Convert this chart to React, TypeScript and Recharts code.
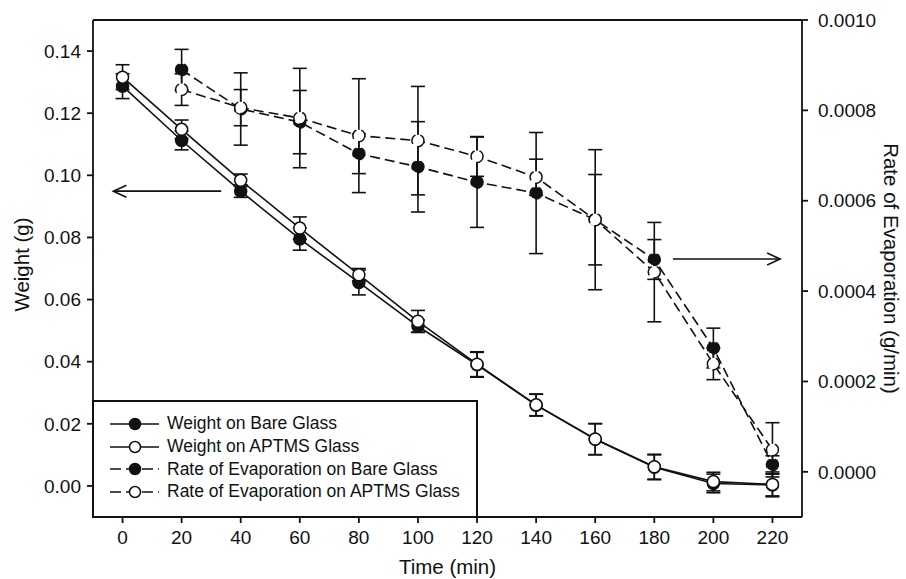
import React from "react";
import {
  ComposedChart,
  Line,
  XAxis,
  YAxis,
  ErrorBar,
  ReferenceLine,
  Legend,
} from "recharts";

const FONT = "'Liberation Sans', Arial, Helvetica, sans-serif";
const INK = "#111";

// time in minutes
const times = [0, 20, 40, 60, 80, 100, 120, 140, 160, 180, 200, 220];

// weight (g), left axis
const weightBare = [0.1287, 0.1112, 0.0949, 0.0795, 0.0655, 0.0514, 0.039, 0.026, 0.015, 0.006, 0.0008, 0.0003];
const weightBareErr = [0.004, 0.003, 0.002, 0.0036, 0.004, 0.002, 0.004, 0.0035, 0.005, 0.004, 0.003, 0.0035];
const weightAptms = [0.1316, 0.1148, 0.0984, 0.083, 0.068, 0.053, 0.0392, 0.0261, 0.0151, 0.0062, 0.0014, 0.0005];
const weightAptmsErr = [0.004, 0.003, 0.002, 0.0036, 0.002, 0.0035, 0.004, 0.0035, 0.005, 0.004, 0.003, 0.004];

// rate of evaporation (g/min), right axis
const rateBare = [null, 0.00089, 0.000803, 0.000774, 0.000704, 0.000675, 0.000641, 0.000617, 0.000558, 0.00047, 0.000274, 0.0000155];
const rateBareErr = [null, 0.000045, 0.00008, 0.00007, 0.000044, 0.0001, 0.0001, 0.000134, 0.000155, 0.000044, 0.000044, 0.00002];
const rateAptms = [null, 0.000846, 0.000806, 0.000783, 0.000744, 0.000733, 0.000698, 0.000652, 0.000558, 0.000442, 0.000239, 0.0000487];
const rateAptmsErr = [null, 0.000035, 0.00004, 0.00011, 0.000126, 0.00012, 0.000044, 0.00004, 0.0001, 0.00011, 0.000035, 0.00006];

const xTicks = [0, 20, 40, 60, 80, 100, 120, 140, 160, 180, 200, 220];
const weightTicks = [0, 0.02, 0.04, 0.06, 0.08, 0.1, 0.12, 0.14];
const rateTicks = [0, 0.0002, 0.0004, 0.0006, 0.0008, 0.001];

const legendItems = [
  { label: "Weight on Bare Glass", filled: true, dashed: false },
  { label: "Weight on APTMS Glass", filled: false, dashed: false },
  { label: "Rate of Evaporation on Bare Glass", filled: true, dashed: true },
  { label: "Rate of Evaporation on APTMS Glass", filled: false, dashed: true },
];

const data = times.map((t, i) => ({
  time: t,
  wBare: weightBare[i],
  wBareErr: weightBareErr[i],
  wAptms: weightAptms[i],
  wAptmsErr: weightAptmsErr[i],
  rBare: rateBare[i],
  rBareErr: rateBareErr[i],
  rAptms: rateAptms[i],
  rAptmsErr: rateAptmsErr[i],
}));

const tickStyle = { fontFamily: FONT, fontSize: 19, fill: INK };
const titleStyle = { fontFamily: FONT, fontSize: 20.5, fill: INK };

const leftTitle = (props: any) => {
  const { x, y, height } = props.viewBox;
  const cx = x + 29;
  const cy = y + height / 2 - 4;
  return (
    <text x={cx} y={cy} transform={`rotate(-90, ${cx}, ${cy})`} textAnchor="middle" style={titleStyle}>
      Weight (g)
    </text>
  );
};

const rightTitle = (props: any) => {
  const { x, y, height } = props.viewBox;
  const cx = x + 82;
  const cy = y + height / 2;
  return (
    <text x={cx} y={cy} transform={`rotate(90, ${cx}, ${cy})`} textAnchor="middle" style={titleStyle}>
      Rate of Evaporation (g/min)
    </text>
  );
};

const bottomTitle = (props: any) => {
  const { x, y, width } = props.viewBox;
  return (
    <text x={x + width / 2} y={y + 57} textAnchor="middle" style={titleStyle}>
      Time (min)
    </text>
  );
};

const arrowShape = (props: any) => {
  const { x1, y1, x2, y2 } = props;
  const dir = x2 < x1 ? 1 : -1;
  return (
    <g>
      <line x1={x1} y1={y1} x2={x2} y2={y2} stroke={INK} strokeWidth={1.6} />
      <polyline
        points={`${x2 + dir * 13},${y2 - 6} ${x2},${y2} ${x2 + dir * 13},${y2 + 6}`}
        fill="none"
        stroke={INK}
        strokeWidth={1.6}
      />
    </g>
  );
};

const LegendBox = () => (
  <div
    style={{
      boxSizing: "border-box",
      width: 386,
      height: 118,
      border: `2px solid ${INK}`,
      background: "#fff",
      paddingTop: 10.7,
      paddingLeft: 15,
      fontFamily: FONT,
      fontSize: 17.5,
      color: INK,
      textAlign: "left",
    }}
  >
    {legendItems.map((item) => (
      <div key={item.label} style={{ display: "flex", alignItems: "center", height: 22.6 }}>
        <svg width={52} height={16} style={{ marginRight: 6, flex: "none" }}>
          <line
            x1={1}
            y1={8}
            x2={50}
            y2={8}
            stroke={INK}
            strokeWidth={1.6}
            strokeDasharray={item.dashed ? "11 5" : undefined}
          />
          <circle cx={26} cy={8} r={5.5} fill={item.filled ? INK : "#fff"} stroke={INK} strokeWidth={1.5} />
        </svg>
        <span style={{ whiteSpace: "nowrap" }}>{item.label}</span>
      </div>
    ))}
  </div>
);

const filledDot = { r: 6, fill: INK, stroke: INK, strokeWidth: 1.5 };
const openDot = { r: 6, fill: "#fff", stroke: INK, strokeWidth: 1.5 };

const App = () => (
  <div style={{ position: "absolute", left: 0, top: 0 }}>
    <ComposedChart width={906} height={579} data={data} margin={{ top: 20, right: 0, bottom: 0, left: 0 }}>
      <XAxis
        dataKey="time"
        type="number"
        domain={[-10, 230]}
        ticks={xTicks}
        allowDataOverflow
        height={62}
        stroke={INK}
        strokeWidth={1.8}
        tickSize={6}
        tickMargin={8}
        tick={tickStyle}
        label={bottomTitle}
      />
      <YAxis
        yAxisId="weight"
        orientation="left"
        domain={[-0.01, 0.15]}
        ticks={weightTicks}
        allowDataOverflow
        width={93}
        stroke={INK}
        strokeWidth={1.8}
        tickSize={6}
        tickMargin={6}
        tick={tickStyle}
        tickFormatter={(v: number) => v.toFixed(2)}
        label={leftTitle}
      />
      <YAxis
        yAxisId="rate"
        orientation="right"
        domain={[-0.0001, 0.001]}
        ticks={rateTicks}
        allowDataOverflow
        width={104}
        stroke={INK}
        strokeWidth={1.8}
        tickSize={6}
        tickMargin={10}
        tick={tickStyle}
        tickFormatter={(v: number) => v.toFixed(4)}
        label={rightTitle}
      />
      <ReferenceLine yAxisId="weight" y={0.15} stroke={INK} strokeWidth={1.8} ifOverflow="visible" />
      <ReferenceLine
        yAxisId="weight"
        segment={[{ x: 33.4, y: 0.0949 }, { x: -3.1, y: 0.0949 }]}
        shape={arrowShape}
        ifOverflow="visible"
      />
      <ReferenceLine
        yAxisId="rate"
        segment={[{ x: 186.3, y: 0.000471 }, { x: 222.6, y: 0.000471 }]}
        shape={arrowShape}
        ifOverflow="visible"
      />
      <Line
        yAxisId="weight"
        dataKey="wBare"
        stroke={INK}
        strokeWidth={1.6}
        dot={filledDot}
        activeDot={false}
        isAnimationActive={false}
      >
        <ErrorBar dataKey="wBareErr" width={7} stroke={INK} strokeWidth={1.6} isAnimationActive={false} />
      </Line>
      <Line
        yAxisId="weight"
        dataKey="wAptms"
        stroke={INK}
        strokeWidth={1.6}
        dot={openDot}
        activeDot={false}
        isAnimationActive={false}
      >
        <ErrorBar dataKey="wAptmsErr" width={7} stroke={INK} strokeWidth={1.6} isAnimationActive={false} />
      </Line>
      <Line
        yAxisId="rate"
        dataKey="rBare"
        stroke={INK}
        strokeWidth={1.6}
        strokeDasharray="10 5"
        dot={filledDot}
        activeDot={false}
        isAnimationActive={false}
      >
        <ErrorBar dataKey="rBareErr" width={7} stroke={INK} strokeWidth={1.6} isAnimationActive={false} />
      </Line>
      <Line
        yAxisId="rate"
        dataKey="rAptms"
        stroke={INK}
        strokeWidth={1.6}
        strokeDasharray="10 5"
        dot={openDot}
        activeDot={false}
        isAnimationActive={false}
      >
        <ErrorBar dataKey="rAptmsErr" width={7} stroke={INK} strokeWidth={1.6} isAnimationActive={false} />
      </Line>
      <Legend
        content={() => <LegendBox />}
        layout="horizontal"
        verticalAlign="middle"
        align="center"
        wrapperStyle={{ left: 92, top: 400, width: 386, height: 118, lineHeight: "normal" }}
      />
    </ComposedChart>
  </div>
);

export default App;
